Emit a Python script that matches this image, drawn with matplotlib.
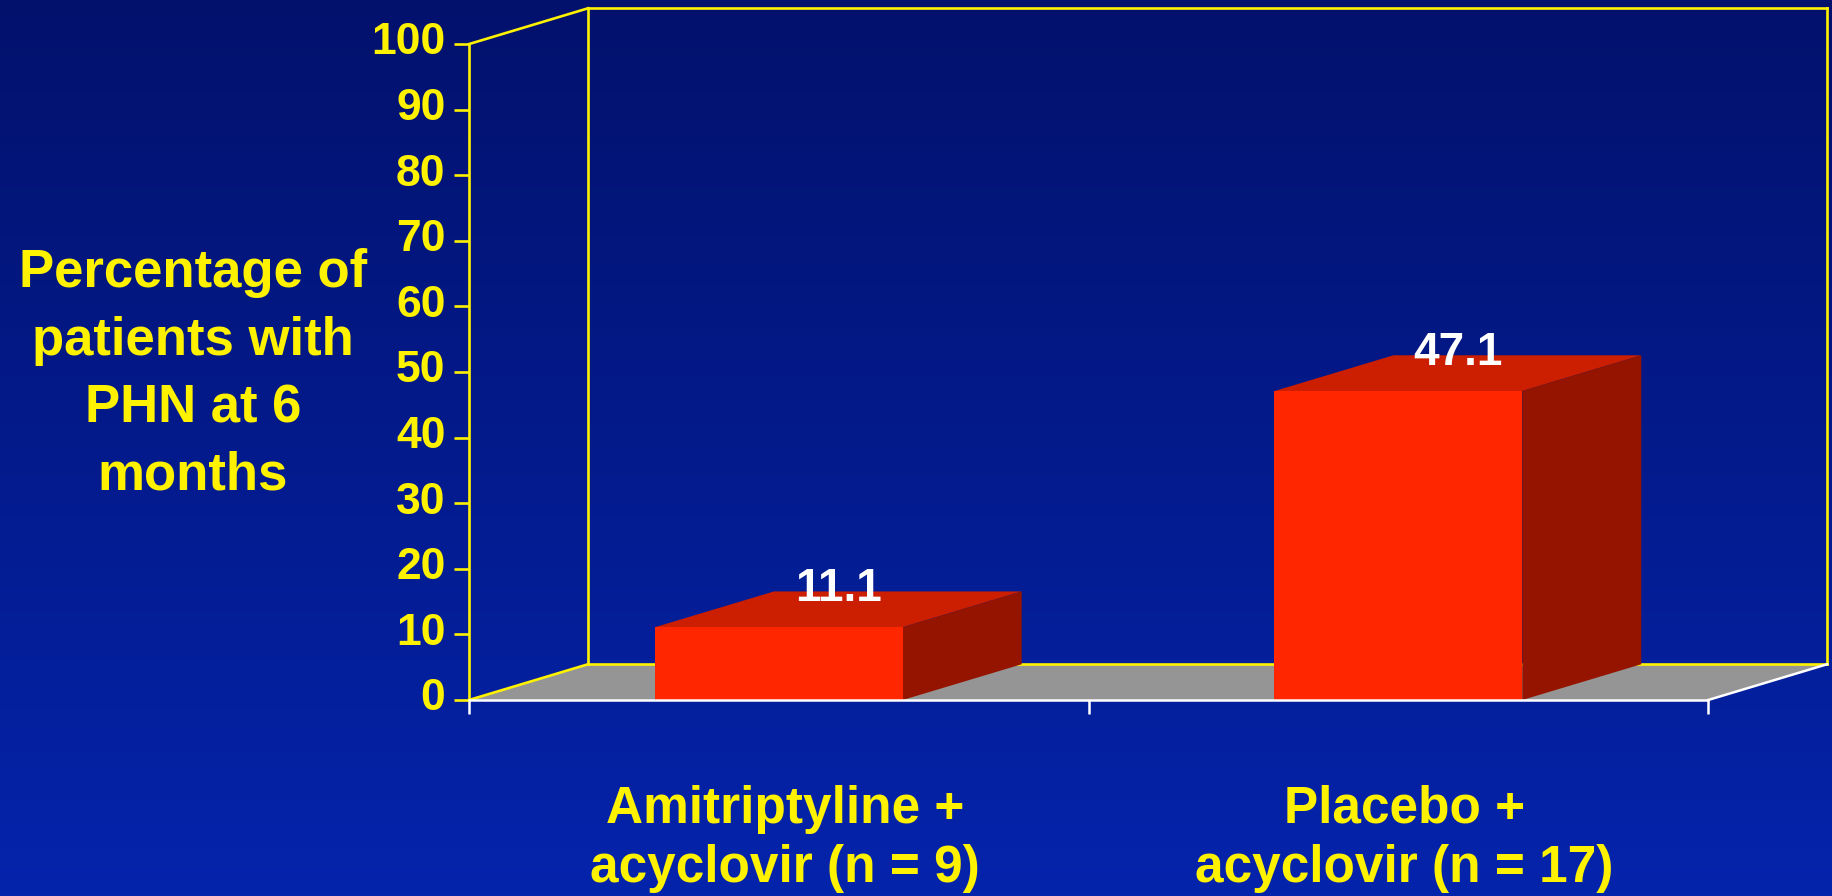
import numpy as np
import matplotlib.pyplot as plt
from matplotlib.patches import Polygon
from matplotlib.transforms import blended_transform_factory, ScaledTranslation

plt.rcParams["font.family"] = ["Liberation Sans", "DejaVu Sans"]

# data
categories = ["Amitriptyline +\nacyclovir (n = 9)", "Placebo +\nacyclovir (n = 17)"]
values = [11.1, 47.1]
yticks = list(range(0, 101, 10))

# 3d look: depth offset of the box in data units
DX, DY = 0.192, 5.45
BAR_W = 0.4

YELLOW = "#FFF200"
FRONT = "#FF2600"
TOP = "#CC1E00"
SIDE = "#941400"
FLOOR = "#959595"

fig = plt.figure(figsize=(18.33, 8.96), dpi=100)

# blue gradient background
bg = fig.add_axes([0, 0, 1, 1], zorder=-10)
top_c = np.array([2, 17, 108]) / 255
bot_c = np.array([5, 36, 172]) / 255
t = np.linspace(0, 1, 256)[:, None]
grad = top_c[None, :] * (1 - t) + bot_c[None, :] * t
bg.imshow(grad[:, None, :], aspect="auto", extent=[0, 1, 0, 1])
bg.set_axis_off()

ax = fig.add_axes([0.2559, 0.21875, 0.676, 0.7321])
ax.set_facecolor("none")
ax.set_xlim(0, 2)
ax.set_ylim(0, 100)
n = len(categories)

# floor
ax.add_patch(Polygon([(0, 0), (n, 0), (n + DX, DY), (DX, DY)],
                     closed=True, facecolor=FLOOR, edgecolor="none",
                     clip_on=False, zorder=1))

# back wall and side wall outlines
lk = dict(color=YELLOW, lw=1.9, clip_on=False, zorder=2)
ax.plot([DX, DX], [DY, 100 + DY], **lk)
ax.plot([DX, n + DX], [100 + DY, 100 + DY], **lk)
ax.plot([n + DX, n + DX], [DY, 100 + DY], **lk)
ax.plot([DX, n + DX], [DY, DY], **lk)
ax.plot([0, DX], [100, 100 + DY], **lk)
ax.plot([0, DX], [0, DY], **lk)

# floor front edges
ax.plot([n, n + DX], [0, DY], color="white", lw=1.8, clip_on=False, zorder=2)

# bars
for i, v in enumerate(values):
    x0 = i + 0.5 - BAR_W / 2
    x1 = i + 0.5 + BAR_W / 2
    ax.add_patch(Polygon([(x0, v), (x1, v), (x1 + DX, v + DY), (x0 + DX, v + DY)],
                         facecolor=TOP, edgecolor="none", clip_on=False, zorder=3))
    ax.add_patch(Polygon([(x1, 0), (x1 + DX, DY), (x1 + DX, v + DY), (x1, v)],
                         facecolor=SIDE, edgecolor="none", clip_on=False, zorder=3))
    ax.add_patch(Polygon([(x0, 0), (x1, 0), (x1, v), (x0, v)],
                         facecolor=FRONT, edgecolor="none", clip_on=False, zorder=4))
    ax.annotate(f"{v:.1f}", xy=(i + 0.5 + DX / 2, v + DY), xytext=(0, -7),
                textcoords="offset points", ha="center", va="baseline",
                color="white", fontsize=33, fontweight="bold", zorder=6,
                annotation_clip=False)

# axes styling
for s in ["top", "right"]:
    ax.spines[s].set_visible(False)
ax.spines["left"].set_color(YELLOW)
ax.spines["left"].set_linewidth(1.9)
ax.spines["bottom"].set_color("white")
ax.spines["bottom"].set_linewidth(1.8)
ax.spines["left"].set_zorder(5)
ax.spines["bottom"].set_zorder(5)

ax.set_yticks(yticks)
ax.set_yticklabels([str(y) for y in yticks])
ax.tick_params(axis="y", colors=YELLOW, length=11, width=1.9, pad=6,
               labelsize=32)
lift = ScaledTranslation(0, 4 / 72, fig.dpi_scale_trans)
for lbl in ax.get_yticklabels():
    lbl.set_fontweight("bold")
    lbl.set_color(YELLOW)
    lbl.set_transform(lbl.get_transform() + lift)

ax.set_xticks(range(n + 1))
ax.set_xticklabels([])
ax.tick_params(axis="x", colors="white", length=10, width=1.8, direction="out")

# category labels under the floor
trans = blended_transform_factory(ax.transData, ax.transAxes)
for i, c in enumerate(categories):
    ax.text(i + 0.51, -0.212, c, transform=trans, ha="center", va="center",
            color=YELLOW, fontsize=37, fontweight="bold", linespacing=1.27)

# y axis title
fig.text(0.1053, 0.582, "Percentage of\npatients with\nPHN at 6\nmonths",
         ha="center", va="center", color=YELLOW, fontsize=38,
         fontweight="bold", linespacing=1.45)

fig.savefig("out.png", dpi=100, facecolor=fig.get_facecolor())
